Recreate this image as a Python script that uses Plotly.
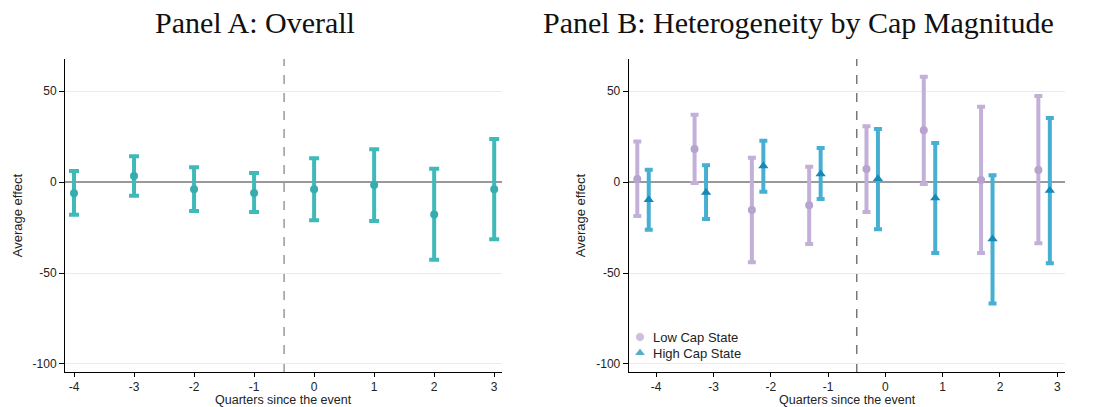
import numpy as np
import plotly.graph_objects as go

# Event-time quarters
quarters = [-4, -3, -2, -1, 0, 1, 2, 3]

# Panel A: overall estimates with 95% CI
overall_est = [-6.2, 3.3, -4.0, -6.0, -4.0, -1.6, -17.8, -4.0]
overall_lo = [-18.0, -7.5, -15.9, -16.5, -21.0, -21.4, -42.7, -31.5]
overall_hi = [6.0, 14.1, 8.1, 4.9, 13.0, 18.0, 7.3, 23.6]

# Panel B: split by cap magnitude
low_est = [1.6, 18.1, -15.4, -12.8, 7.1, 28.4, 1.1, 6.6]
low_lo = [-18.7, -0.5, -44.1, -34.1, -16.5, -1.1, -39.0, -33.7]
low_hi = [22.2, 37.0, 13.4, 8.4, 30.6, 57.9, 41.4, 47.3]

high_est = [-9.7, -5.7, 8.8, 4.4, 1.8, -8.8, -31.3, -4.6]
high_lo = [-26.2, -20.3, -5.3, -9.3, -26.0, -39.0, -66.7, -44.7]
high_hi = [6.8, 9.2, 22.7, 18.7, 29.1, 21.4, 3.7, 35.2]

y_ticks = [50, 0, -50, -100]
series_names = ["Low Cap State", "High Cap State"]

TEAL = "#40b9b9"
TEAL_DARK = "#36acae"
LAV = "#c3b0d8"
LAV_DARK = "#b8a3cf"
BLUE = "#46afd2"
BLUE_DARK = "#1689b6"

W, H = 1093, 407


def err(est, lo, hi):
    est, lo, hi = map(np.asarray, (est, lo, hi))
    return dict(type="data", symmetric=False, array=hi - est, arrayminus=est - lo)


q = np.asarray(quarters, dtype=float)
fig = go.Figure()

ea = err(overall_est, overall_lo, overall_hi)
ea.update(color=TEAL, thickness=4, width=5)
fig.add_trace(go.Scatter(
    x=q, y=overall_est, mode="markers", error_y=ea,
    marker=dict(color=TEAL_DARK, size=8, symbol="circle"),
    xaxis="x", yaxis="y", showlegend=False))

el = err(low_est, low_lo, low_hi)
el.update(color=LAV, thickness=4, width=4)
fig.add_trace(go.Scatter(
    x=q - 0.33, y=low_est, mode="markers", error_y=el, name=series_names[0],
    marker=dict(color=LAV_DARK, size=8, symbol="circle"),
    xaxis="x2", yaxis="y2", showlegend=False))

eh = err(high_est, high_lo, high_hi)
eh.update(color=BLUE, thickness=4, width=4)
fig.add_trace(go.Scatter(
    x=q - 0.13, y=high_est, mode="markers", error_y=eh, name=series_names[1],
    marker=dict(color=BLUE_DARK, size=9, symbol="triangle-up"),
    xaxis="x2", yaxis="y2", showlegend=False))

# Legend keys drawn on a pixel-space overlay axis (x: px from left, y: px from top)
key_x = 640
key_y = [337, 353]
fig.add_trace(go.Scatter(
    x=[key_x, key_x], y=key_y, mode="markers", hoverinfo="skip", showlegend=False,
    marker=dict(color=[LAV_DARK, BLUE_DARK], size=[9, 10],
                symbol=["circle", "triangle-up"]),
    xaxis="x3", yaxis="y3"))

ydom = [1 - 372 / H, 1 - 59 / H]
axis_font = dict(family="Liberation Sans, Arial, sans-serif", size=12, color="#222")
label_font = dict(family="Liberation Sans, Arial, sans-serif", size=13, color="#222")
xtitle_font = dict(family="Liberation Sans, Arial, sans-serif", size=12.5, color="#222")
title_font = dict(family="Liberation Serif, Times New Roman, serif", size=30, color="#111")

xcommon = dict(
    tickvals=quarters, ticktext=[str(v) for v in quarters],
    showline=True, linecolor="black", linewidth=1, mirror=False,
    ticks="outside", ticklen=4, tickcolor="black", showgrid=False,
    zeroline=False, tickfont=axis_font,
)
ycommon = dict(
    range=[-104.4, 67.6], tickvals=y_ticks, ticktext=[str(v) for v in y_ticks],
    showline=True, linecolor="black", linewidth=1, mirror=False,
    ticks="outside", ticklen=5, tickcolor="black",
    showgrid=True, gridcolor="#ebebeb", gridwidth=1,
    zeroline=True, zerolinecolor="#999999", zerolinewidth=1.5,
    tickfont=axis_font,
    title=dict(text="Average effect", font=label_font, standoff=7),
)

annotations = [
    dict(text="Panel A: Overall", x=255 / W, y=1 - 23 / H, xref="paper", yref="paper",
         xanchor="center", yanchor="middle", showarrow=False, font=title_font),
    dict(text="Panel B: Heterogeneity by Cap Magnitude", x=798 / W, y=1 - 23 / H,
         xref="paper", yref="paper", xanchor="center", yanchor="middle",
         showarrow=False, font=title_font),
    dict(text="Quarters since the event", x=283.5 / W, y=1 - 400 / H, xref="paper",
         yref="paper", xanchor="center", yanchor="middle", showarrow=False, font=xtitle_font),
    dict(text="Quarters since the event", x=847 / W, y=1 - 400 / H, xref="paper",
         yref="paper", xanchor="center", yanchor="middle", showarrow=False, font=xtitle_font),
]
for name, yy in zip(series_names, key_y):
    annotations.append(dict(text=name, x=651, y=yy, xref="x3", yref="y3",
                            xanchor="left", yanchor="middle", showarrow=False,
                            font=label_font))

fig.update_layout(
    width=W, height=H,
    margin=dict(l=0, r=0, t=0, b=0),
    paper_bgcolor="white", plot_bgcolor="rgba(0,0,0,0)",
    showlegend=False,
    xaxis=dict(domain=[65 / W, 502 / W], range=[-4.15, 3.13], anchor="y", **xcommon),
    yaxis=dict(domain=ydom, anchor="x", **ycommon),
    xaxis2=dict(domain=[628.7 / W, 1065.3 / W], range=[-4.48, 3.14], anchor="y2", **xcommon),
    yaxis2=dict(domain=ydom, anchor="x2", **ycommon),
    xaxis3=dict(domain=[0, 1], range=[0, W], visible=False, anchor="y3"),
    yaxis3=dict(domain=[0, 1], range=[H, 0], visible=False, anchor="x3"),
    shapes=[
        dict(type="line", xref="x", yref="y domain", x0=-0.5, x1=-0.5, y0=0, y1=1,
             line=dict(color="#999999", width=1.5, dash="dash"), layer="below"),
        dict(type="line", xref="x2", yref="y2 domain", x0=-0.5, x1=-0.5, y0=0, y1=1,
             line=dict(color="#777777", width=1.5, dash="dash"), layer="below"),
    ],
    annotations=annotations,
)

fig.write_html("out.html")
